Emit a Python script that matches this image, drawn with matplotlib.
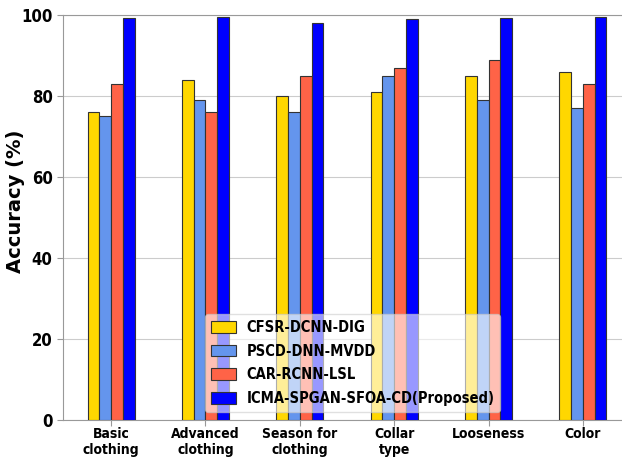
import numpy as np
from matplotlib import pyplot as plt

categories = ['Basic\nclothing', 'Advanced\nclothing', 'Season for\nclothing',
              'Collar\ntype', 'Looseness', 'Color']
methods = ['CFSR-DCNN-DIG', 'PSCD-DNN-MVDD', 'CAR-RCNN-LSL',
           'ICMA-SPGAN-SFOA-CD(Proposed)']
cfsr = [76, 84, 80, 81, 85, 86]
pscd = [75, 79, 76, 85, 79, 77]
car = [83, 76, 85, 87, 89, 83]
icma = [99.3, 99.5, 98, 99, 99.2, 99.6]
colors = ['#FFD700', '#6495ED', '#FF6347', '#0000FF']

fig = plt.figure(figsize=(6.22, 4.59), dpi=100)
# axes runs a bit past the right edge, like the cropped original
ax = fig.add_axes([63 / 622, 39 / 459, 568 / 622, 405 / 459])

x = np.arange(len(categories))
w = 0.125
for i, (vals, name, c) in enumerate(zip([cfsr, pscd, car, icma], methods, colors)):
    ax.bar(x + (i - 1.5) * w, vals, w, color=c, label=name,
           edgecolor='#333333', linewidth=0.8, zorder=3)

ax.set_xlim(-0.51, 5.51)
ax.set_ylim(0, 100)
ax.set_xticks(x)
ax.set_xticklabels(categories, fontsize=10, fontweight='bold', stretch='condensed',
                   linespacing=1.15)
ax.set_yticks(range(0, 101, 20))
ax.set_yticklabels([str(v) for v in range(0, 101, 20)], fontsize=12,
                   fontweight='bold', stretch='condensed')
ax.set_ylabel('Accuracy (%)', fontsize=14, fontweight='bold')
ax.yaxis.set_label_coords(-0.067, 0.54)

ax.grid(axis='y', color='#cccccc', linewidth=0.8, zorder=0)
for s in ax.spines.values():
    s.set_color('#999999')
ax.tick_params(colors='#999999', labelcolor='black', length=4)
ax.tick_params(axis='x', pad=1)

leg = ax.legend(loc='lower left', bbox_to_anchor=(0.25, 0.02), borderaxespad=0,
                prop={'weight': 'bold', 'size': 10.5, 'stretch': 'condensed'},
                framealpha=0.6, handlelength=1.75, handleheight=0.85,
                handletextpad=0.7, labelspacing=0.6, borderpad=0.4)

plt.savefig('out.png')
